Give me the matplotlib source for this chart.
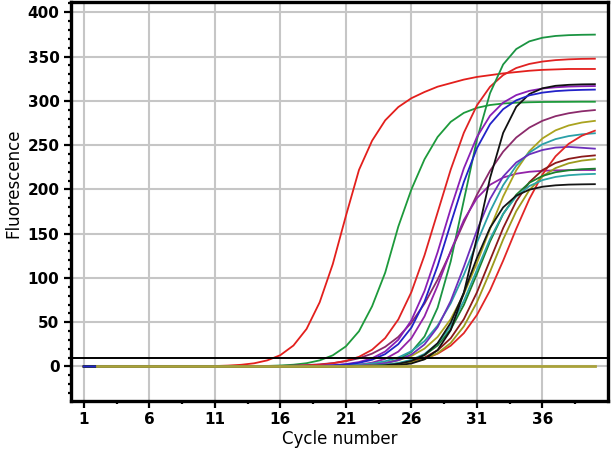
import matplotlib
matplotlib.use("Agg")
import matplotlib.pyplot as plt
from matplotlib.ticker import MultipleLocator, FixedLocator

cycles = list(range(1, 41))

red_early = [0, 0, 0, 0, 0, 0, 0, 0.1, 0.1, 0.3, 0.5, 1, 1.9, 3.6, 6.9, 12.8, 23.7, 42.4, 72.5, 115.6,
             170, 222, 255, 278, 293, 303, 310, 316, 320, 324, 327, 329, 331, 332.5, 334, 335, 335.5, 336, 336, 336]
green_early = [0, 0, 0, 0, 0, 0, 0, 0, 0, 0, 0, 0.1, 0.2, 0.3, 0.6, 1.1, 2, 3.7, 6.9, 12.6,
               22.7, 39.8, 68, 106, 158, 200, 234, 259.2, 276.3, 286.4, 292.1, 295.3, 297, 297.9, 298.4, 298.7, 298.8, 298.9, 299, 299]
red_mid = [0, 0, 0, 0, 0, 0, 0, 0, 0, 0, 0, 0, 0.1, 0.1, 0.2, 0.4, 0.6, 1.1, 2, 3.6,
           6.3, 10.9, 18.9, 32.1, 53.1, 84.1, 125.6, 174, 222.4, 263.9, 294.9, 315.9, 329.1, 337.1, 341.7, 344.4, 346, 346.9, 347.4, 347.6]
green_top = [0, 0, 0, 0, 0, 0, 0, 0, 0, 0, 0, 0, 0, 0, 0, 0, 0, 0, 0.1, 0.2,
             0.4, 0.8, 1.7, 3.7, 7.8, 16.5, 33.9, 66.3, 118.7, 187.5, 256.3, 308.7, 341.1, 358.5, 367.2, 371.3, 373.3, 374.2, 374.6, 374.8]
black_top = [0, 0, 0, 0, 0, 0, 0, 0, 0, 0, 0, 0, 0, 0, 0, 0, 0, 0, 0, 0,
             0, 0.1, 0.3, 0.6, 1.4, 3.4, 8.1, 18.6, 41, 83.1, 145.7, 212.8, 263.8, 293.3, 307.7, 314.2, 317, 318.1, 318.6, 318.8]
purple_top = [0, 0, 0, 0, 0, 0, 0, 0, 0, 0, 0, 0, 0, 0, 0.1, 0.1, 0.2, 0.4, 0.8, 1.5,
              2.7, 5, 9.3, 16.9, 30.2, 52.2, 85.3, 129.1, 178.2, 223.7, 259.2, 283.2, 298, 306.5, 311.3, 313.9, 315.3, 316.1, 316.5, 316.7]
blue_top = [0, 0, 0, 0, 0, 0, 0, 0, 0, 0, 0, 0, 0, 0, 0.1, 0.1, 0.2, 0.3, 0.6, 1.2,
            2.2, 4.1, 7.6, 14, 25.2, 43.9, 73.2, 113.6, 161.4, 208.3, 246.6, 273.6, 290.6, 300.6, 306.2, 309.3, 311, 311.9, 312.4, 312.7]
plum = [0, 0, 0, 0, 0, 0, 0, 0, 0, 0, 0.1, 0.1, 0.2, 0.3, 0.4, 0.6, 1, 1.6, 2.4, 3.8,
        6, 9.3, 14.5, 22.2, 33.4, 49.4, 71, 98.1, 129.5, 162.5, 193.9, 221, 242.6, 258.6, 269.8, 277.5, 282.7, 286, 288.2, 289.6]
olive_hi = [0, 0, 0, 0, 0, 0, 0, 0, 0, 0, 0, 0, 0, 0, 0, 0, 0.1, 0.1, 0.3, 0.4,
            0.8, 1.3, 2.3, 4, 7, 11.9, 20.2, 33.4, 53.4, 81.6, 116.9, 155.5, 191.9, 221.6, 243.2, 257.6, 266.7, 272.2, 275.5, 277.4]
red_late = [0, 0, 0, 0, 0, 0, 0, 0, 0, 0, 0, 0, 0, 0, 0, 0, 0, 0.1, 0.1, 0.2,
            0.4, 0.6, 1.1, 1.8, 3.1, 5.2, 8.7, 14.4, 23.5, 37.6, 58.2, 85.9, 119.5, 155.5, 189.1, 216.8, 237.4, 251.5, 260.6, 266.3]
teal_hi = [0, 0, 0, 0, 0, 0, 0, 0, 0, 0, 0, 0, 0, 0, 0, 0.1, 0.1, 0.2, 0.4, 0.7,
           1.1, 2, 3.4, 5.9, 10.2, 17.2, 28.6, 46.2, 71.3, 103.5, 139.9, 175.1, 204.7, 226.7, 241.6, 251, 256.8, 260.2, 262.2, 263.4]
violet = [0, 0, 0, 0, 0, 0, 0, 0, 0, 0, 0, 0, 0, 0, 0, 0, 0, 0.1, 0.1, 0.3,
          0.5, 1, 1.9, 3.7, 7.1, 13.5, 24.9, 44.4, 74, 112.5, 153.6, 189.1, 214.5, 230.4, 239.6, 244.5, 247.2, 248, 247, 246]
maroon = [0, 0, 0, 0, 0, 0, 0, 0, 0, 0, 0, 0, 0, 0, 0, 0, 0, 0, 0.1, 0.1,
          0.2, 0.5, 0.9, 1.6, 3, 5.5, 10.1, 18.2, 31.9, 53.4, 83.7, 120, 156.3, 186.6, 208.1, 221.8, 229.9, 234.5, 237, 238.4]
olive_lo = [0, 0, 0, 0, 0, 0, 0, 0, 0, 0, 0, 0, 0, 0, 0, 0, 0, 0, 0.1, 0.1,
            0.2, 0.4, 0.7, 1.3, 2.4, 4.5, 8.3, 15, 26.6, 45.3, 72.5, 107, 143.4, 175.4, 199.2, 214.7, 224.1, 229.5, 232.5, 234.1]
green_lo = [0, 0, 0, 0, 0, 0, 0, 0, 0, 0, 0, 0, 0, 0, 0, 0, 0, 0, 0.1, 0.1,
            0.2, 0.5, 0.9, 1.8, 3.5, 6.8, 12.8, 23.7, 42, 69.4, 104.5, 141.2, 172.1, 194, 207.5, 215.2, 219.4, 221.6, 222.8, 223.4]
teal_lo = [0, 0, 0, 0, 0, 0, 0, 0, 0, 0, 0, 0, 0, 0, 0, 0, 0, 0, 0.1, 0.1,
           0.3, 0.5, 1, 2, 3.9, 7.5, 14.2, 26, 45.5, 74, 109, 144, 172.5, 192, 203.8, 210.5, 214.1, 216, 217, 217.5]
black_lo = [0, 0, 0, 0, 0, 0, 0, 0, 0, 0, 0, 0, 0, 0, 0, 0, 0, 0, 0, 0.1,
            0.1, 0.3, 0.6, 1.4, 3, 6.3, 13.1, 26.3, 49.4, 83.4, 122.6, 156.6, 179.7, 192.9, 199.7, 203, 204.6, 205.4, 205.7, 205.9]
purple_lo = [0, 0, 0, 0, 0, 0, 0, 0, 0, 0, 0, 0, 0, 0, 0, 0, 0.1, 0.1, 0.3, 0.5,
             1, 2.1, 4.3, 8.6, 16.8, 31.9, 56.6, 91.4, 130.6, 165.4, 190.1, 205.2, 213.4, 217.7, 219.9, 221, 221.5, 221.7, 221.9, 221.9]

neg_cycles = list(range(2, 41))
negative = [0] * 39

threshold = 10

x_ticks = [1, 6, 11, 16, 21, 26, 31, 36]

series = [
    (red_early, "#e31f1c"), (green_early, "#1d9a3b"), (plum, "#8b2a6b"),
    (red_mid, "#e02222"), (green_top, "#1b9442"), (purple_lo, "#9322a8"),
    (purple_top, "#8a1fb5"), (olive_hi, "#aaa31f"), (teal_hi, "#2aa0a8"),
    (violet, "#6c2fbb"), (red_late, "#e22626"), (maroon, "#8b1a1a"),
    (olive_lo, "#9c9a1c"), (green_lo, "#1a7f2b"), (teal_lo, "#2ca6a6"),
    (black_top, "#111111"), (black_lo, "#151515"), (blue_top, "#2222c8"),
]

fig = plt.figure(figsize=(6.14, 4.67), dpi=100)
ax = fig.add_axes([0.1151, 0.1413, 0.8751, 0.8551])

for vals, col in series:
    ax.plot(cycles, vals, color=col, lw=1.3, zorder=3)
ax.plot(neg_cycles, negative, color="#a9a23a", lw=2.0, zorder=4)
ax.axhline(threshold, color="black", lw=1.4, zorder=5)

ax.set_xlim(0, 41)
ax.set_ylim(-39, 412)
ax.xaxis.set_major_locator(FixedLocator(x_ticks))
ax.xaxis.set_minor_locator(FixedLocator([t + 2.5 for t in x_ticks]))
ax.yaxis.set_major_locator(MultipleLocator(50))
ax.yaxis.set_minor_locator(MultipleLocator(10))
ax.grid(True, which="major", color="#c6c6c6", lw=1.5, zorder=0)
ax.set_axisbelow(True)
for sp in ax.spines.values():
    sp.set_linewidth(2.4)
ax.tick_params(which="major", length=5, width=1.6, labelsize=11, pad=3)
ax.tick_params(which="minor", length=2.5, width=1.6)
for lab in ax.get_xticklabels() + ax.get_yticklabels():
    lab.set_fontweight("bold")
ax.set_xlabel("Cycle number", fontsize=12, labelpad=2)
ax.set_ylabel("Fluorescence", fontsize=12)
ax.yaxis.set_label_coords(-0.09, 0.545)

fig.savefig("out.png")
